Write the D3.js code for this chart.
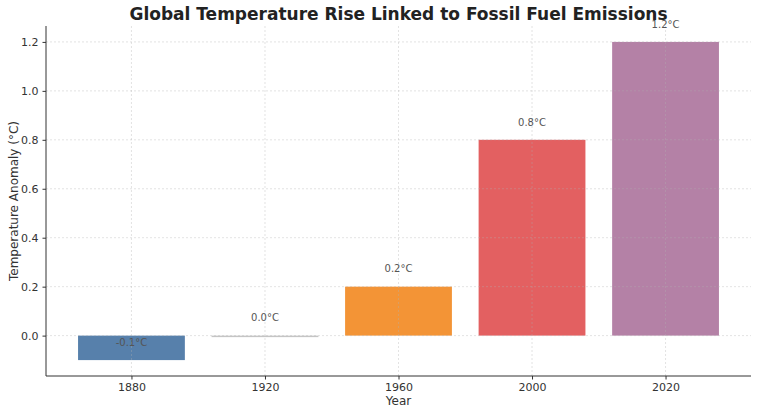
<!DOCTYPE html>
<html>
<head>
<meta charset="utf-8">
<script src="https://cdn.jsdelivr.net/npm/d3@7"></script>
<style>
  body { margin: 0; background: #fff; }
  text { font-family: "DejaVu Sans", sans-serif; }
</style>
</head>
<body>
<div id="chart"></div>
<script>
// data
const years = ['1880', '1920', '1960', '2000', '2020'];
const anomalies = [-0.1, 0.0, 0.2, 0.8, 1.2];
const barColors = ['#4e79a7', '#c2c2c2', '#f28e2b', '#e15759', '#b07aa1'];
const yTicks = [0.0, 0.2, 0.4, 0.6, 0.8, 1.0, 1.2];

const W = 758, H = 415;
const margin = { top: 26, right: 7, bottom: 39, left: 46 };
const width = W - margin.left - margin.right;
const height = H - margin.top - margin.bottom;

const svg = d3.select('#chart').append('svg')
  .attr('width', W).attr('height', H);

const g = svg.append('g')
  .attr('transform', `translate(${margin.left},${margin.top})`);

// matplotlib-like limits: bars 0.8 wide, 5% margins
const x = d3.scaleLinear().domain([-0.64, years.length - 1 + 0.64]).range([0, width]);
const y = d3.scaleLinear().domain([-0.165, 1.265]).range([height, 0]);
const barW = x(0.8) - x(0);

const data = years.map((yr, i) => ({ year: yr, value: anomalies[i], color: barColors[i], i }));

// bars
g.selectAll('rect.bar')
  .data(data)
  .join('rect')
  .attr('class', 'bar')
  .attr('x', d => x(d.i - 0.4))
  .attr('y', d => y(Math.max(0, d.value)))
  .attr('width', barW)
  .attr('height', d => Math.max(Math.abs(y(d.value) - y(0)), 1.5))
  .attr('fill', d => d.color)
  .attr('fill-opacity', 0.95);

// grid (drawn over the bars, faint)
const grid = g.append('g').attr('stroke', '#b0b0b0').attr('stroke-opacity', 0.45)
  .attr('stroke-dasharray', '2,2').attr('stroke-width', 0.8);
grid.selectAll('line.h').data(yTicks).join('line')
  .attr('x1', 0).attr('x2', width)
  .attr('y1', d => y(d)).attr('y2', d => y(d));
grid.selectAll('line.v').data(data).join('line')
  .attr('y1', 0).attr('y2', height)
  .attr('x1', d => x(d.i)).attr('x2', d => x(d.i));

// value labels
g.selectAll('text.val')
  .data(data)
  .join('text')
  .attr('class', 'val')
  .attr('x', d => x(d.i))
  .attr('y', d => y(d.value + 0.05) - 2)
  .attr('text-anchor', 'middle')
  .attr('font-size', 10)
  .attr('fill', '#555')
  .text(d => d.value.toFixed(1) + '°C');

// axes
const yAxis = g.append('g')
  .call(d3.axisLeft(y).tickValues(yTicks).tickFormat(d3.format('.1f')).tickSize(3.5).tickPadding(4));
const xAxis = g.append('g')
  .attr('transform', `translate(0,${height})`)
  .call(d3.axisBottom(x).tickValues(data.map(d => d.i)).tickFormat(i => years[i]).tickSize(3.5).tickPadding(3.5));

[xAxis, yAxis].forEach(ax => {
  ax.select('.domain').attr('stroke', '#333').attr('stroke-width', 1);
  ax.selectAll('.tick line').attr('stroke', '#333');
  ax.selectAll('.tick text').attr('font-size', 11).attr('fill', '#333')
    .attr('font-family', '"DejaVu Sans", sans-serif');
});
xAxis.select('.domain').attr('d', `M0,0H${width}`);
yAxis.select('.domain').attr('d', `M0,0V${height}`);

// title and labels
svg.append('text')
  .attr('x', margin.left + width / 2).attr('y', 20)
  .attr('text-anchor', 'middle')
  .attr('font-size', 17).attr('font-weight', 'bold').attr('fill', '#222')
  .text('Global Temperature Rise Linked to Fossil Fuel Emissions');

svg.append('text')
  .attr('x', margin.left + width / 2).attr('y', 405)
  .attr('text-anchor', 'middle')
  .attr('font-size', 12).attr('fill', '#333')
  .text('Year');

svg.append('text')
  .attr('transform', `translate(18,${margin.top + height / 2}) rotate(-90)`)
  .attr('text-anchor', 'middle')
  .attr('font-size', 12).attr('fill', '#333')
  .text('Temperature Anomaly (°C)');
</script>
</body>
</html>
